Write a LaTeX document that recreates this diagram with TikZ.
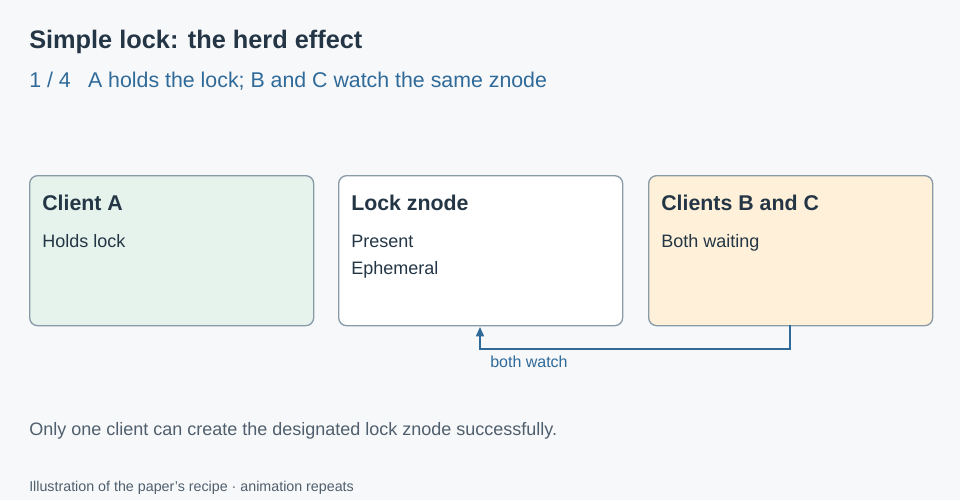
\documentclass[tikz,border=0pt]{standalone}
\usepackage{fontspec}
\setmainfont{Liberation Sans}
\usetikzlibrary{positioning, arrows.meta}
\definecolor{ink}{HTML}{243645}
\definecolor{accent}{HTML}{2F6A99}
\definecolor{muted}{HTML}{4F5F6D}
\definecolor{edge}{HTML}{8A9BA8}
\definecolor{bg}{HTML}{F7F8FA}
\definecolor{greenfill}{HTML}{E6F2EC}
\definecolor{amberfill}{HTML}{FFF0D9}
\tikzset{
  box/.style={draw=edge, line width=1pt, rounded corners=6pt, minimum width=284\px, minimum height=150\px, anchor=north west, inner sep=0pt},
  txt/.style={anchor=base west, inner sep=0pt},
  head/.style={txt, font=\fontsize{16}{19}\selectfont\bfseries, text=ink},
  body/.style={txt, font=\fontsize{13.5}{16}\selectfont, text=ink},
}
\newcommand{\px}{pt*0.75}
\begin{document}
\begin{tikzpicture}[x=0.75pt, y=-0.75pt]
\fill[bg] (0,0) rectangle (960,500);
\useasboundingbox (0,0) rectangle (960,500);
\node[txt, font=\fontsize{19}{22}\selectfont\bfseries, text=ink] (title) at (29,48) {Simple lock: the herd effect};
\node[txt, font=\fontsize{16}{19}\selectfont, text=accent] (step) at (29,87) {1 / 4\hspace{13pt}A holds the lock; B and C watch the same znode};
%
\node[box, fill=greenfill] (clientA) at (29,175) {};
\node[head] (headA) at (42,210) {Client A};
\node[body] at (42,247) {Holds lock};
%
\node[box, fill=white] (lock) at (338,175) {};
\node[head] (headL) at (351,210) {Lock znode};
\node[body] at (351,247) {Present};
\node[body] at (351,274) {Ephemeral};
%
\node[box, fill=amberfill] (clientsBC) at (648,175) {};
\node[head] (headBC) at (661,210) {Clients B and C};
\node[body] at (661,247) {Both waiting};
%
\coordinate (from) at (790,325);
\coordinate (to) at (480,327);
\draw[accent, line width=1.1pt, -{Triangle[length=7pt,width=6pt]}] (from) |- (480,349) -- (to);
\node[txt, font=\fontsize{12}{14}\selectfont, text=accent] (watch) at (490,367) {both watch};
%
\node[txt, font=\fontsize{13.5}{16}\selectfont, text=muted] (note) at (29,435) {Only one client can create the designated lock znode successfully.};
\node[txt, font=\fontsize{10.7}{12}\selectfont, text=muted] (foot) at (29,491) {Illustration of the paper’s recipe · animation repeats};
\end{tikzpicture}
\end{document}
